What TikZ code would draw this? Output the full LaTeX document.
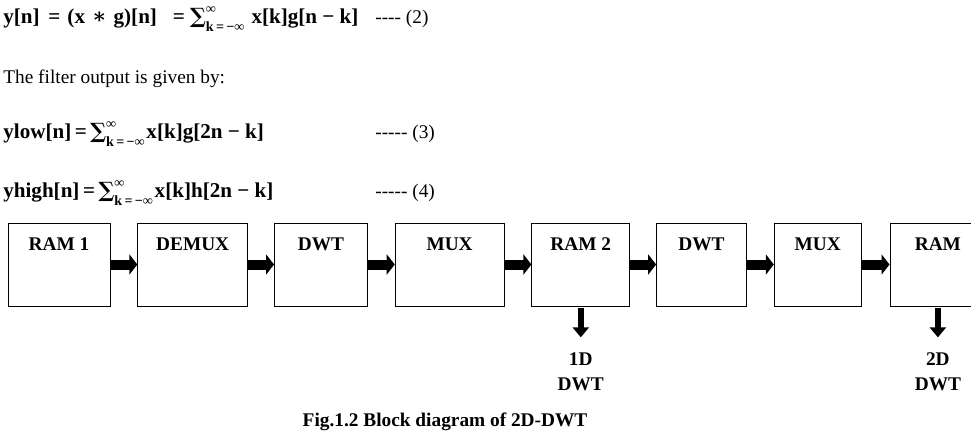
\documentclass[tikz,border=0pt]{standalone}
\usepackage{fontspec}
\setmainfont{Liberation Serif}
\newfontfamily\symfont{DejaVu Serif}
\usepackage{tikz}
\usetikzlibrary{arrows.meta,positioning}

\newcommand{\figfont}{\fontsize{11}{14}\selectfont}
\newcommand{\eqfont}{\fontsize{12}{14}\selectfont\bfseries}
\newcommand{\limfont}{\fontsize{8}{8}\selectfont}
\newcommand{\sumlim}{{\symfont ∑}\rlap{\raisebox{1.1ex}{\limfont ∞}}\raisebox{-0.8ex}{\limfont k\,=\,−∞}}

\tikzset{
  txt/.style={inner sep=0pt, font=\figfont},
  boldtxt/.style={inner sep=0pt, font=\figfont\bfseries},
  eqtxt/.style={inner sep=0pt, font=\eqfont, anchor=west},
  blk/.style={draw, inner sep=0pt, minimum width=#1*0.02cm, minimum height=83*0.02cm},
  lbl/.style={boldtxt, anchor=north, yshift=-0.3cm},
  flow/.style={line width=0.2cm, -{Triangle[length=0.16cm,width=0.4cm]}},
  dnflow/.style={line width=0.12cm, -{Triangle[length=0.2cm,width=0.32cm]}, shorten <=1pt, shorten >=0.3cm}
}

\begin{document}
\begin{tikzpicture}[x=0.02cm, y=-0.02cm]
      \path[use as bounding box] (0,0) rectangle (971,436);
      % equations
      \node[eqtxt] (eqconv) at (3,19) {y[n]\hspace{5pt}=\hspace{4pt}(x\hspace{4pt}{\symfont∗}\hspace{4pt}g)[n]\hspace{9pt}=\hspace{3pt}\sumlim\hspace{4pt}x[k]g[n − k]};
      \node[txt, anchor=west] (tag2) at (375,19) {-{}-{}-{}- (2)};
      \node[txt, anchor=west] (intro) at (3,79) {The filter output is given by:};
      \node[eqtxt] (eqlow) at (3,134) {ylow[n]\hspace{2pt}=\hspace{2pt}\sumlim\hspace{1pt}x[k]g[2n − k]};
      \node[txt, anchor=west] (tag3) at (375,134) {-{}-{}-{}-{}- (3)};
      \node[eqtxt] (eqhigh) at (3,193) {yhigh[n]\hspace{2pt}=\hspace{2pt}\sumlim\hspace{1pt}x[k]h[2n − k]};
      \node[txt, anchor=west] (tag4) at (375,193) {-{}-{}-{}-{}- (4)};
      % block chain
      \node[blk=102, label={[lbl]north:RAM 1}] (ram1) at (59,264.5) {};
      \node[blk=110, right=0.54cm of ram1, label={[lbl]north:DEMUX}] (demux) {};
      \node[blk=93, right=0.52cm of demux, label={[lbl]north:DWT}] (dwta) {};
      \node[blk=109, right=0.54cm of dwta, label={[lbl]north:MUX}] (muxa) {};
      \node[blk=98, right=0.54cm of muxa, label={[lbl]north:RAM 2}] (ram2) {};
      \node[blk=90, right=0.52cm of ram2, label={[lbl]north:DWT}] (dwtb) {};
      \node[blk=87, right=0.54cm of dwtb, label={[lbl]north:MUX}] (muxb) {};
      \node[blk=96, right=0.56cm of muxb, label={[lbl]north:RAM}] (ram3) {};
      \draw[flow] (ram1) -- (demux);
      \draw[flow] (demux) -- (dwta);
      \draw[flow] (dwta) -- (muxa);
      \draw[flow] (muxa) -- (ram2);
      \draw[flow] (ram2) -- (dwtb);
      \draw[flow] (dwtb) -- (muxb);
      \draw[flow] (muxb) -- (ram3);
      % outputs
      \node[boldtxt, align=center, below=0.92cm of ram2] (res1) {1D\\DWT};
      \node[boldtxt, align=center, below=0.92cm of ram3] (res2) {2D\\DWT};
      \draw[dnflow] (ram2) -- (res1);
      \draw[dnflow] (ram3) -- (res2);
      \node[boldtxt] (caption) at (445,422) {Fig.1.2 Block diagram of 2D-DWT};
    \end{tikzpicture}
\end{document}
